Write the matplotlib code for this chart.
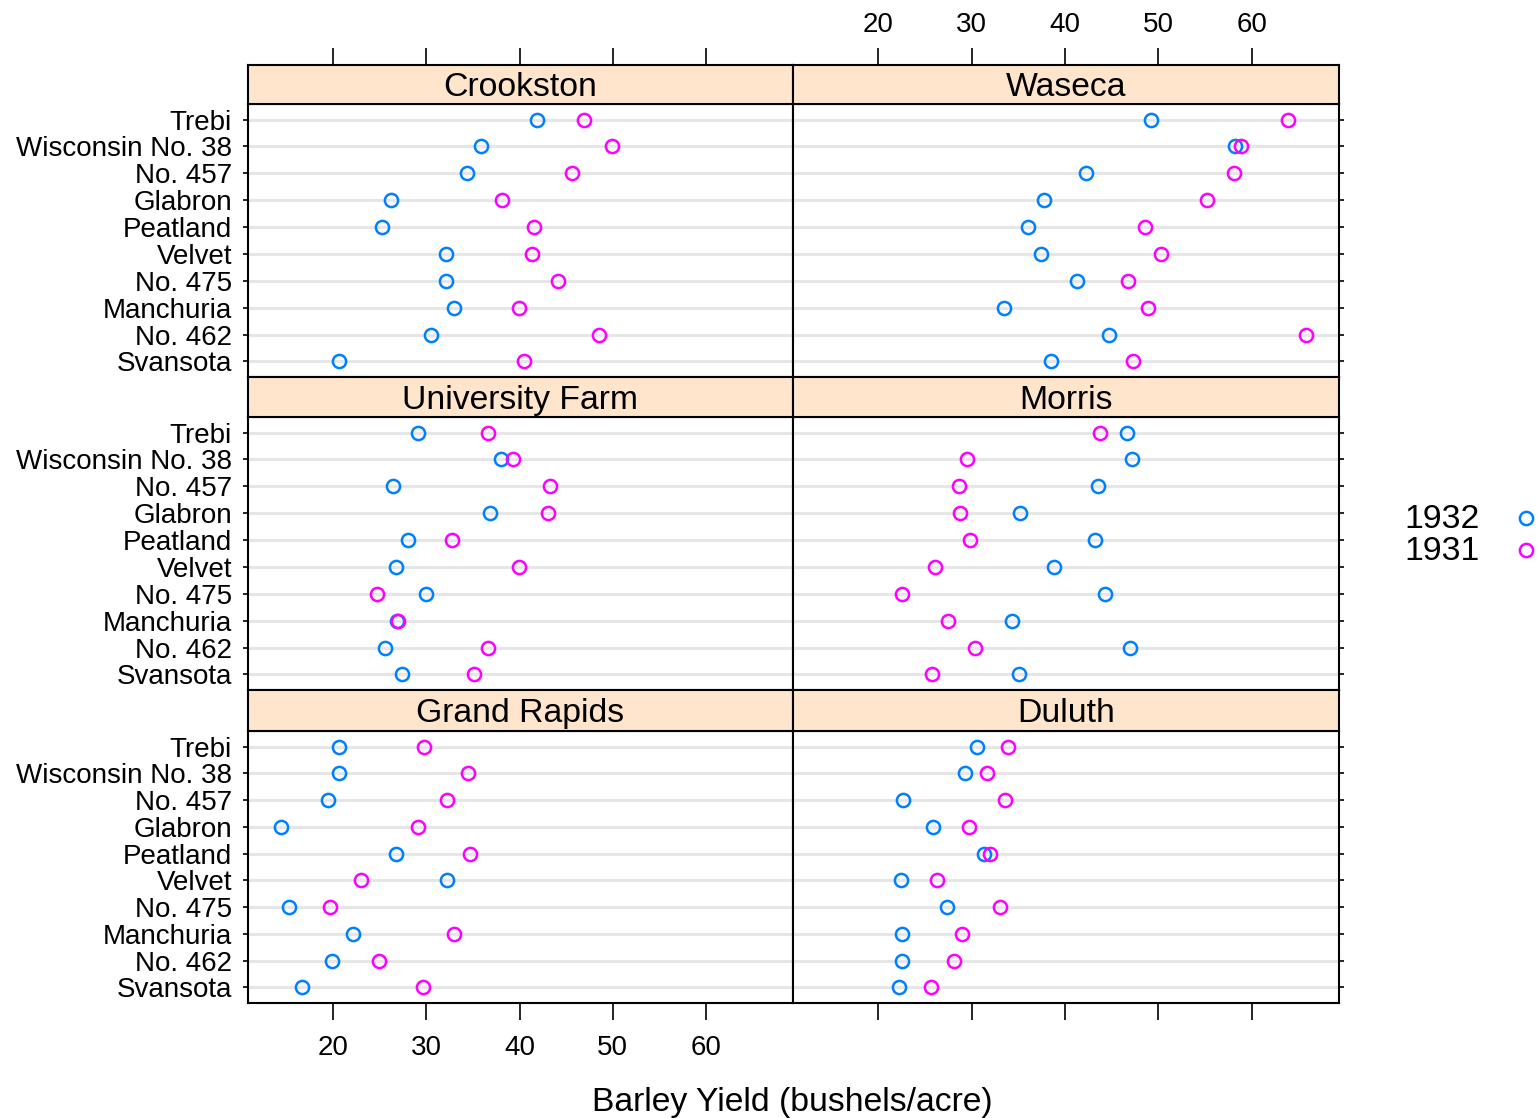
import matplotlib
matplotlib.use('Agg')
import matplotlib.pyplot as plt

plt.rcParams['font.family'] = ['Liberation Sans', 'DejaVu Sans']

# varieties, bottom to top
varieties = ["Svansota", "No. 462", "Manchuria", "No. 475", "Velvet",
             "Peatland", "Glabron", "No. 457", "Wisconsin No. 38", "Trebi"]
years = ["1932", "1931"]
xticks = [20, 30, 40, 50, 60]

crookston_1932 = [20.63, 30.53, 32.97, 32.13, 32.07, 25.23, 26.17, 34.33, 35.90, 41.83]
crookston_1931 = [40.47, 48.57, 39.93, 44.10, 41.33, 41.60, 38.13, 45.67, 49.87, 46.93]
waseca_1932 = [38.50, 44.70, 33.47, 41.27, 37.40, 36.03, 37.73, 42.20, 58.17, 49.23]
waseca_1931 = [47.33, 65.77, 48.87, 46.77, 50.23, 48.57, 55.20, 58.10, 58.80, 63.83]
univfarm_1932 = [27.43, 25.57, 26.90, 30.00, 26.80, 28.07, 36.80, 26.43, 38.00, 29.07]
univfarm_1931 = [35.13, 36.60, 27.00, 24.67, 39.90, 32.77, 43.07, 43.27, 39.30, 36.57]
morris_1932 = [35.03, 47.00, 34.37, 44.23, 38.83, 43.20, 35.13, 43.53, 47.17, 46.63]
morris_1931 = [25.77, 30.37, 27.43, 22.60, 26.13, 29.87, 28.77, 28.70, 29.47, 43.77]
grandrapids_1932 = [16.63, 19.90, 22.13, 15.23, 32.23, 26.77, 14.43, 19.47, 20.67, 20.63]
grandrapids_1931 = [29.67, 24.93, 32.97, 19.70, 23.03, 34.70, 29.13, 32.17, 34.47, 29.77]
duluth_1932 = [22.23, 22.50, 22.57, 27.37, 22.47, 31.37, 25.87, 22.70, 29.33, 30.60]
duluth_1931 = [25.70, 28.10, 28.97, 33.07, 26.30, 32.00, 29.67, 33.60, 31.60, 33.93]

panels = [
    ("Crookston", crookston_1932, crookston_1931),
    ("Waseca", waseca_1932, waseca_1931),
    ("University Farm", univfarm_1932, univfarm_1931),
    ("Morris", morris_1932, morris_1931),
    ("Grand Rapids", grandrapids_1932, grandrapids_1931),
    ("Duluth", duluth_1932, duluth_1931),
]

COL1932 = "#0080ff"
COL1931 = "#ff00ff"
STRIP = "#ffe5cc"

W, H = 1538, 1118
fig = plt.figure(figsize=(W / 100, H / 100), dpi=100)

def fr(x0, y0, x1, y1):
    return [x0 / W, 1 - y1 / H, (x1 - x0) / W, (y1 - y0) / H]

xcols = [(248, 793), (793, 1339)]
rows = [(65, 104, 377), (377, 417, 690), (690, 731, 1003)]

XLIM = (10.88, 69.33)
YLIM = (0.42, 10.58)
AX_FS = 20
BIG_FS = 24.3
TICKLEN = 12

for i, (name, v32, v31) in enumerate(panels):
    r, c = divmod(i, 2)
    xa, xb = xcols[c]
    st, pt, pb = rows[r]
    ax = fig.add_axes(fr(xa, pt, xb, pb))
    ypos = list(range(1, len(varieties) + 1))
    for y in ypos:
        ax.axhline(y, color="#e6e6e6", lw=2.2, zorder=1)
    ax.plot(v32, ypos, ls="none", marker="o", ms=9.5, mfc="none",
            mec=COL1932, mew=1.8, zorder=3)
    ax.plot(v31, ypos, ls="none", marker="o", ms=9.5, mfc="none",
            mec=COL1931, mew=1.8, zorder=4)
    ax.set_xlim(*XLIM)
    ax.set_ylim(*YLIM)
    for sp in ax.spines.values():
        sp.set_linewidth(1.5)
    ax.set_xticks(xticks)
    ax.set_yticks(ypos)
    # y ticks
    if c == 0:
        ax.tick_params(axis="y", left=True, right=False, labelleft=True,
                       labelright=False, length=3.5, width=1.2,
                       direction="out", pad=8, labelsize=AX_FS)
        ax.set_yticklabels(varieties)
    else:
        ax.tick_params(axis="y", left=False, right=True, labelleft=False,
                       labelright=False, length=3.5, width=1.2,
                       direction="out")
    # x ticks on panel (bottom row only)
    if r == 2:
        ax.tick_params(axis="x", bottom=True, top=False, labelbottom=(c == 0),
                       labeltop=False, length=TICKLEN, width=1.2,
                       direction="out", pad=11, labelsize=AX_FS)
    else:
        ax.tick_params(axis="x", bottom=False, top=False, labelbottom=False,
                       labeltop=False)
    # strip
    sax = fig.add_axes(fr(xa, st, xb, pt))
    sax.set_facecolor(STRIP)
    sax.set_xlim(*XLIM)
    sax.set_yticks([])
    for sp in sax.spines.values():
        sp.set_linewidth(1.5)
    if r == 0:
        sax.set_xticks(xticks)
        sax.tick_params(axis="x", bottom=False, top=True, labelbottom=False,
                        labeltop=(c == 1), length=TICKLEN, width=1.2,
                        direction="out", pad=7.5, labelsize=AX_FS)
    else:
        sax.set_xticks([])
    sax.text(0.5, 0.42, name, ha="center", va="center", fontsize=BIG_FS,
             transform=sax.transAxes)

fig.text(792 / W, 1 - 1103 / H, "Barley Yield (bushels/acre)", ha="center",
         va="center", fontsize=BIG_FS)

# legend
lax = fig.add_axes([0, 0, 1, 1])
lax.set_xlim(0, W)
lax.set_ylim(H, 0)
lax.axis("off")
for yy, lab, col in [(518, years[0], COL1932), (550, years[1], COL1931)]:
    lax.text(1480, yy + 2, lab, ha="right", va="center", fontsize=BIG_FS)
    lax.plot([1526], [yy], ls="none", marker="o", ms=9.5, mfc="none",
             mec=col, mew=1.8, clip_on=False)

fig.savefig("out.png", dpi=100)
